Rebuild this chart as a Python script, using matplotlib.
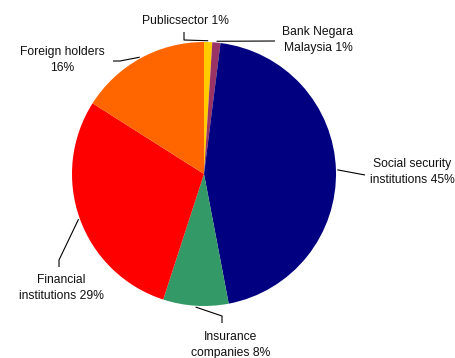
import numpy as np
import matplotlib
matplotlib.use("Agg")
import matplotlib.pyplot as plt

labels = ["Publicsector 1%", "Bank Negara\nMalaysia 1%", "Social security\ninstitutions 45%",
          "Insurance\ncompanies 8%", "Financial\ninstitutions 29%", "Foreign holders\n16%"]
values = [1, 1, 45, 8, 29, 16]
colors = ["#FFCC00", "#993366", "#000080", "#339966", "#FF0000", "#FF6600"]

W, H = 456, 358
fig = plt.figure(figsize=(W / 100, H / 100), dpi=100)
ax = fig.add_axes([0, 0, 1, 1])

def P(y):
    return H - y

cx, cy, R = 204, P(174), 132
wedges, _ = ax.pie(values, colors=colors, startangle=90, counterclock=False,
                   center=(cx, cy), radius=R, wedgeprops=dict(linewidth=0))
ax.set_xlim(0, W)
ax.set_ylim(0, H)
ax.set_aspect("auto")
ax.axis("off")

# layout: text centre and leader elbow points (pixel coords, y from top)
text_pos = [(185, 21), (318, 40), (412, 172), (231, 345), (61, 288), (62, 60)]
elbows = [
    [(184, 40), (184, 32)],
    [(275, 41)],
    [(365, 175)],
    [(222, 316), (222, 323)],
    [(59, 260), (59, 267)],
    [(120, 61), (113, 61)],
]

for w, lab, tp, el in zip(wedges, labels, text_pos, elbows):
    mid = np.deg2rad((w.theta1 + w.theta2) / 2)
    ax0 = cx + R * 1.01 * np.cos(mid)
    ay0 = cy + R * 1.01 * np.sin(mid)
    xs = [ax0] + [p[0] for p in el]
    ys = [ay0] + [P(p[1]) for p in el]
    ax.plot(xs, ys, color="black", lw=0.8, solid_capstyle="butt")
    ax.text(tp[0], P(tp[1]), lab, ha="center", va="center", fontsize=8.7,
            family="Liberation Sans", color="#111111", linespacing=1.55)

fig.savefig("out.png", dpi=100)
